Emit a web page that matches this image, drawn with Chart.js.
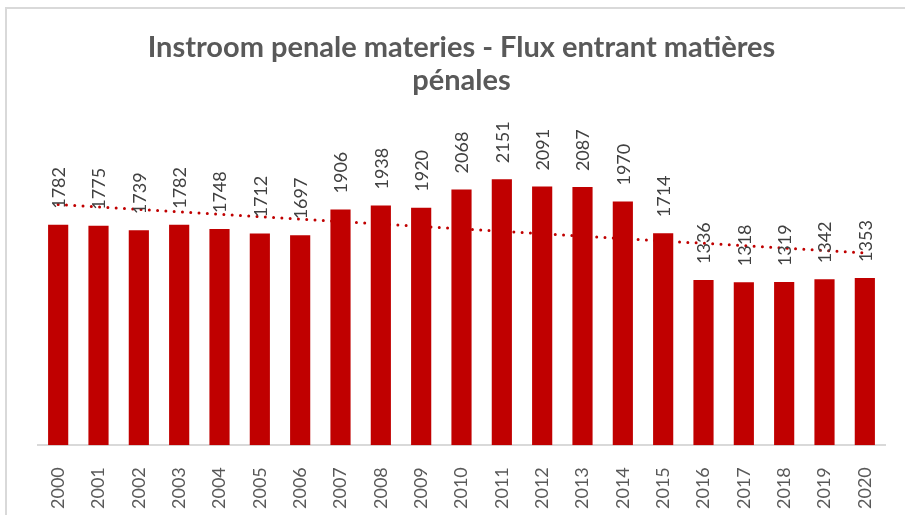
<!DOCTYPE html>
<html>
<head>
<meta charset="utf-8">
<script src="https://cdn.jsdelivr.net/npm/chart.js@4.4.1/dist/chart.umd.min.js"></script>
<style>
  html, body { margin: 0; padding: 0; background: #fff; overflow: hidden; }
  #frame {
    position: absolute; left: 5px; top: 7px; width: 920px; height: 530px;
    border-left: 2px solid #d9d9d9; border-top: 2px solid #d9d9d9;
  }
  #wrap { position: absolute; left: 0; top: 0; width: 905px; height: 515px; }
</style>
</head>
<body>
<div id="frame"></div>
<div id="wrap"><canvas id="chart" width="905" height="515"></canvas></div>
<script>
  // data
  var years = ["2000", "2001", "2002", "2003", "2004", "2005", "2006", "2007", "2008", "2009", "2010",
               "2011", "2012", "2013", "2014", "2015", "2016", "2017", "2018", "2019", "2020"];
  var cases = [1782, 1775, 1739, 1782, 1748, 1712, 1697, 1906, 1938, 1920, 2068,
               2151, 2091, 2087, 1970, 1714, 1336, 1318, 1319, 1342, 1353];
  // linear trend line, value at first and last year
  var trendEnds = [1946, 1554];

  var titleLines = ["Instroom penale materies - Flux entrant matières", "pénales"];

  var barColor = "#c00000";

  // trend only has its two ends, the line spans the gaps
  var trendData = years.map(function (y, i) {
    if (i === 0) return trendEnds[0];
    if (i === years.length - 1) return trendEnds[1];
    return null;
  });

  /**
   * Draws the value above each bar, rotated like the reference.
   */
  var barLabels = {
    id: "barLabels",
    afterDatasetsDraw: function (chart) {
      var ctx = chart.ctx;
      var meta = chart.getDatasetMeta(0);
      ctx.save();
      ctx.fillStyle = "#404040";
      ctx.font = "18px Lato";
      ctx.textAlign = "left";
      ctx.textBaseline = "middle";
      meta.data.forEach(function (bar, i) {
        ctx.save();
        ctx.translate(bar.x + 1, bar.y - 16);
        ctx.rotate(-Math.PI / 2);
        ctx.fillText(String(cases[i]), 0, 0);
        ctx.restore();
      });
      ctx.restore();
    }
  };

  var chart = new Chart(document.getElementById("chart"), {
    type: "bar",
    data: {
      labels: years,
      datasets: [
        {
          label: "Instroom",
          data: cases,
          backgroundColor: barColor,
          barPercentage: 0.5,
          categoryPercentage: 1.0,
          order: 1
        },
        {
          type: "line",
          label: "Trend",
          data: trendData,
          spanGaps: true,
          borderColor: barColor,
          borderWidth: 3,
          borderDash: [0, 8.3],
          borderCapStyle: "round",
          pointRadius: 0,
          fill: false,
          order: 2
        }
      ]
    },
    options: {
      responsive: false,
      animation: false,
      layout: {
        padding: { left: 38, right: 20, top: 0, bottom: -8 }
      },
      plugins: {
        legend: { display: false },
        tooltip: { enabled: false },
        title: {
          display: true,
          text: titleLines,
          color: "#595959",
          font: { family: "Lato", size: 29, weight: "bold", lineHeight: "33px" },
          padding: { top: 31, bottom: 39 }
        }
      },
      scales: {
        x: {
          grid: { display: false },
          border: { display: true, color: "#d9d9d9", width: 2 },
          ticks: {
            color: "#595959",
            font: { family: "Lato", size: 18 },
            minRotation: 90,
            maxRotation: 90,
            padding: 14,
            autoSkip: false
          }
        },
        y: {
          display: false,
          min: 0,
          max: 2500
        }
      }
    },
    plugins: [barLabels]
  });
</script>
</body>
</html>
